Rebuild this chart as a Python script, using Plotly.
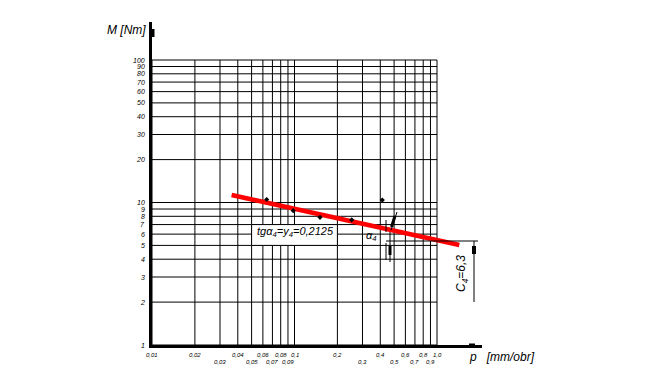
import numpy as np
import plotly.graph_objects as go

# ---------------- data ----------------
x_grid = [0.01, 0.02, 0.03, 0.04, 0.05, 0.06, 0.07, 0.08, 0.09,
          0.1, 0.2, 0.3, 0.4, 0.5, 0.6, 0.7, 0.8, 0.9, 1.0]
x_tick_labels = ["0,01", "0,02", "0,03", "0,04", "0,05", "0,06", "0,07", "0,08", "0,09",
                 "0,1", "0,2", "0,3", "0,4", "0,5", "0,6", "0,7", "0,8", "0,9", "1,0"]
x_tick_row = [0, 0, 1, 0, 1, 0, 1, 0, 1, 0, 0, 1, 0, 1, 0, 1, 0, 1, 0]

y_grid = [1, 2, 3, 4, 5, 6, 7, 8, 9, 10, 20, 30, 40, 50, 60, 70, 80, 90, 100]
y_tick_labels = ["1", "2", "3", "4", "5", "6", "7", "8", "9", "10",
                 "20", "30", "40", "50", "60", "70", "80", "90", "100"]

p_meas = [0.0638, 0.098, 0.151, 0.252, 0.413]
M_meas = [10.5, 8.76, 7.87, 7.54, 10.4]

p_fit = [0.0362, 1.434]
M_fit = [11.29, 5.03]

# ---------------- layout helpers ----------------
OFF = 8                      # default page body margin
W, H = 650 - OFF, 392 - OFF
ML, MR, MT, MB = 152 - OFF, 168, 22 - OFF, 47
PX_DEC = 142.5
XR = [-2, -2 + (W - ML - MR) / PX_DEC]
YR = [0, (H - MT - MB) / PX_DEC]


def px2x(px):
    return 10 ** ((px - OFF - ML) / PX_DEC + XR[0])


def px2y(py):
    return 10 ** ((H + OFF - MB - py) / PX_DEC)


FONT = "Liberation Sans"

fig = go.Figure()

# fitted line
fig.add_trace(go.Scatter(x=p_fit, y=M_fit, mode="lines",
                         line=dict(color="#ff0000", width=4.5),
                         hoverinfo="skip", showlegend=False))
# measured points
fig.add_trace(go.Scatter(x=p_meas, y=M_meas, mode="markers",
                         marker=dict(symbol="diamond", size=4, color="black"),
                         showlegend=False))

shapes = []
for xv in x_grid:
    shapes.append(dict(type="line", xref="x", yref="y", x0=xv, x1=xv,
                       y0=y_grid[0], y1=y_grid[-1],
                       line=dict(color="black", width=1), layer="below"))
for yv in y_grid:
    shapes.append(dict(type="line", xref="x", yref="y", x0=x_grid[0], x1=x_grid[-1],
                       y0=yv, y1=yv,
                       line=dict(color="black", width=1), layer="below"))
# white label box
shapes.append(dict(type="rect", xref="x", yref="y", x0=0.05, x1=0.2, y0=5, y1=7,
                   fillcolor="white", line=dict(color="black", width=1), layer="below"))


def seg(x0, y0, x1, y1, w=1):
    shapes.append(dict(type="line", xref="x", yref="y",
                       x0=px2x(x0), y0=px2y(y0), x1=px2x(x1), y1=px2y(y1),
                       line=dict(color="black", width=w), layer="above"))


# angle / dimension markings
seg(386, 220, 386, 232)
seg(397, 212, 391, 230)
seg(395, 216, 391.5, 227, 3)
seg(390, 232, 390, 262)
seg(390, 246, 390, 255, 3)
seg(386, 243, 386, 260)
seg(386, 241, 478, 241)
seg(474, 241, 474, 302)
seg(474, 246, 474, 254, 4)
# axis arrow heads
seg(152, 29, 152, 37, 5)
seg(469, 346, 475, 346, 5)

annotations = []
for xv, lab, row in zip(x_grid, x_tick_labels, x_tick_row):
    annotations.append(dict(x=np.log10(xv), xref="x", y=0, yref="paper",
                            text="<i>" + lab + "</i>", showarrow=False,
                            yanchor="middle", xanchor="center",
                            yshift=-10 if row == 0 else -17,
                            font=dict(family=FONT, size=6, color="black")))
for yv, lab in zip(y_grid, y_tick_labels):
    annotations.append(dict(x=0, xref="paper", y=np.log10(yv), yref="y",
                            text="<i>" + lab + "</i>", showarrow=False,
                            xanchor="right", yanchor="middle", xshift=-5,
                            font=dict(family=FONT, size=7, color="black")))

PW, PH = W - ML - MR, H - MT - MB
annotations.append(dict(x=(148 - OFF - ML) / PW, xref="paper", xanchor="right",
                        y=(H + OFF - MB - 30) / PH, yref="paper", yanchor="middle",
                        text="<i>M [Nm]</i>", showarrow=False,
                        font=dict(family=FONT, size=12, color="black")))
annotations.append(dict(x=(467 - OFF - ML) / PW, xref="paper", xanchor="left",
                        y=(H + OFF - MB - 357) / PH, yref="paper", yanchor="middle",
                        text="<i>p   [mm/obr]</i>", showarrow=False,
                        font=dict(family=FONT, size=12, color="black")))
annotations.append(dict(x=np.log10(px2x(295.5)), xref="x", y=np.log10(px2y(232)), yref="y",
                        text="<i>tgα<sub>4</sub>=y<sub>4</sub>=0,2125</i>", showarrow=False,
                        font=dict(family=FONT, size=11, color="black")))
annotations.append(dict(x=np.log10(px2x(371)), xref="x", y=np.log10(px2y(236)), yref="y",
                        text="<i>α<sub>4</sub></i>", showarrow=False,
                        font=dict(family=FONT, size=11, color="black")))
annotations.append(dict(x=np.log10(px2x(462)), xref="x", y=np.log10(px2y(274)), yref="y",
                        text="<i>C<sub>4</sub>=6,3</i>", showarrow=False, textangle=-90,
                        font=dict(family=FONT, size=12, color="black")))

fig.update_layout(
    width=W, height=H,
    margin=dict(l=ML, r=MR, t=MT, b=MB, pad=0),
    paper_bgcolor="white", plot_bgcolor="white",
    showlegend=False,
    xaxis=dict(type="log", range=XR, showgrid=False, zeroline=False,
               showline=True, linewidth=3, linecolor="black",
               showticklabels=False, ticks=""),
    yaxis=dict(type="log", range=YR, showgrid=False, zeroline=False,
               showline=True, linewidth=3, linecolor="black",
               showticklabels=False, ticks=""),
    shapes=shapes,
    annotations=annotations,
)

fig.write_html("out.html")
